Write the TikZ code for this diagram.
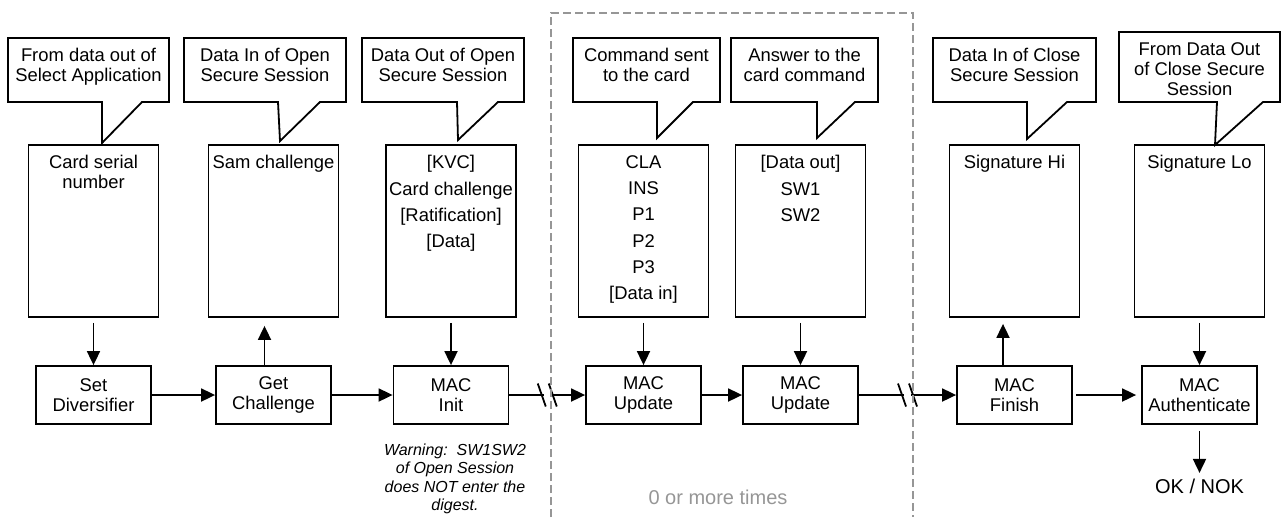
\documentclass[tikz,border=0pt]{standalone}
\usepackage{fontspec}
\setmainfont{Liberation Sans}
\usetikzlibrary{arrows.meta,positioning}
\definecolor{loopgray}{RGB}{150,150,150}

\begin{document}
\begin{tikzpicture}[x=1pt, y=-1pt, line width=1.8pt,
    proc/.style = {draw, minimum width=115pt, minimum height=58pt, align=center, inner sep=0pt, font=\fontsize{18.4}{19.5}\selectfont},
    databox/.style = {draw, minimum width=130pt, minimum height=172pt},
    boxtext/.style = {anchor=north, align=center, inner xsep=0pt, inner ysep=10.4pt, font=\fontsize{18.4}{20}\selectfont},
    items/.style = {boxtext, font=\fontsize{18.4}{26.3}\selectfont},
    calltext/.style = {anchor=north, align=center, inner xsep=0pt, inner ysep=9.4pt, font=\fontsize{18.4}{20}\selectfont},
    warn/.style = {align=center, inner sep=0pt, font=\fontsize{16}{18.3}\selectfont\itshape},
    arr/.style = {-{Triangle[length=14pt, width=13pt]}},
    node distance={164pt}]
\useasboundingbox (0,0) rectangle (1282,517);

% steps
\node[proc] (p1) at (93.5,395) {Set\\Diversifier};
\node[proc] (p2) at (273.5,395) {Get\\Challenge};
\node[proc] (p3) at (451,395) {MAC\\Init};
\node[proc] (p4) at (643.5,395) {MAC\\Update};
\node[proc] (p5) at (800.5,395) {MAC\\Update};
\node[proc] (p6) at (1014.5,395) {MAC\\Finish};
\node[proc] (p7) at (1199.5,395) {MAC\\Authenticate};

% data
\node[databox] (d1) [above of=p1] {};
\node[databox] (d2) [above of=p2] {};
\node[databox] (d3) [above of=p3] {};
\node[databox] (d4) [above of=p4] {};
\node[databox] (d5) [above of=p5] {};
\node[databox] (d6) [above of=p6] {};
\node[databox] (d7) [above of=p7] {};
\node[boxtext] (d1t) at (d1.north) {Card serial\\number};
\node[boxtext] (d2t) at (d2.north) {Sam challenge};
\node[items] (d3t) at (d3.north) {[KVC]\\Card challenge\\{}[Ratification]\\{}[Data]};
\node[items] (d4t) at (d4.north) {CLA\\INS\\P1\\P2\\P3\\{}[Data in]};
\node[items] (d5t) at (d5.north) {[Data out]\\SW1\\SW2};
\node[boxtext] (d6t) at (d6.north) {Signature Hi};
\node[boxtext] (d7t) at (d7.north) {Signature Lo};

% callouts
\draw (8,38) -- (169,38) -- (169,102) -- (142,102) -- (102,143) -- (102,102) -- (8,102) -- cycle;
\draw (184,38) -- (346,38) -- (346,102) -- (320,102) -- (280,141) -- (278,102) -- (184,102) -- cycle;
\draw (362,38) -- (524,38) -- (524,102) -- (498,102) -- (458,140) -- (457,102) -- (362,102) -- cycle;
\draw (573,38) -- (720,38) -- (720,102) -- (693,102) -- (657,138) -- (657,102) -- (573,102) -- cycle;
\draw (731,38) -- (878,38) -- (878,102) -- (855,102) -- (817,138) -- (817,102) -- (731,102) -- cycle;
\draw (933,38) -- (1096,38) -- (1096,102) -- (1067,102) -- (1027,139) -- (1027,102) -- (933,102) -- cycle;
\draw (1119,32) -- (1280,32) -- (1280,102) -- (1263,102) -- (1215,145) -- (1217,102) -- (1119,102) -- cycle;
\node[calltext] (c1) at (88.5,38) {From data out of\\Select Application};
\node[calltext] (c2) at (265,38) {Data In of Open\\Secure Session};
\node[calltext] (c3) at (443,38) {Data Out of Open\\Secure Session};
\node[calltext] (c4) at (646.5,38) {Command sent\\to the card};
\node[calltext] (c5) at (804.5,38) {Answer to the\\card command};
\node[calltext] (c6) at (1014.5,38) {Data In of Close\\Secure Session};
\node[calltext] (c7) at (1199.5,32) {From Data Out\\of Close Secure\\Session};

% data <-> steps
\draw[arr, shorten <=5pt] (d1) -- (p1);
\draw[arr, shorten >=8pt] ([xshift=-9pt]p2.north) -- ([xshift=-9pt]d2.south);
\draw[arr, shorten <=5pt] (d3) -- (p3);
\draw[arr, shorten <=5pt] (d4) -- (p4);
\draw[arr, shorten <=5pt] (d5) -- (p5);
\draw[arr, shorten >=6pt] ([xshift=-11.5pt]p6.north) -- ([xshift=-11.5pt]d6.south);
\draw[arr, shorten <=5pt] (d7) -- (p7);

% chain
\draw[arr] (p1) -- (p2);
\draw[arr] (p2) -- (p3);
\draw[arr] (p3) -- coordinate (m1) (p4);
\draw[arr] (p4) -- (p5);
\draw[arr] (p5) -- coordinate (m2) (p6);
\draw[arr, shorten <=3pt, shorten >=5pt] (p6) -- (p7);
\draw[white, line width=3pt] ([xshift=-3.5pt]m1) -- ([xshift=3.5pt]m1);
\draw ([shift={(-9.5,-11.5)}]m1) -- ++(8,23);
\draw ([shift={(1.5,-11.5)}]m1) -- ++(8,23);
\draw[white, line width=3pt] ([xshift=-3.5pt]m2) -- ([xshift=3.5pt]m2);
\draw ([shift={(-9.5,-11.5)}]m2) -- ++(8,23);
\draw ([shift={(1.5,-11.5)}]m2) -- ++(8,23);

% result and notes
\node[font=\fontsize{20}{22}\selectfont] (ok) [below=50pt of p7] {OK / NOK};
\draw[arr, shorten <=6pt, shorten >=2pt] (p7) -- (ok);
\node[warn] (warning) [below=18pt of p3, xshift=4pt] {Warning:\ \ SW1SW2\\of Open Session\\does NOT enter the\\digest.};
\node[text=loopgray, font=\fontsize{20}{22}\selectfont] (loop) at (718,497) {0 or more times};
\draw[loopgray, line width=1.3pt, dash pattern=on 8pt off 4pt] (551,517) -- (551,13) -- (913,13) -- (913,517);
\end{tikzpicture}
\end{document}
